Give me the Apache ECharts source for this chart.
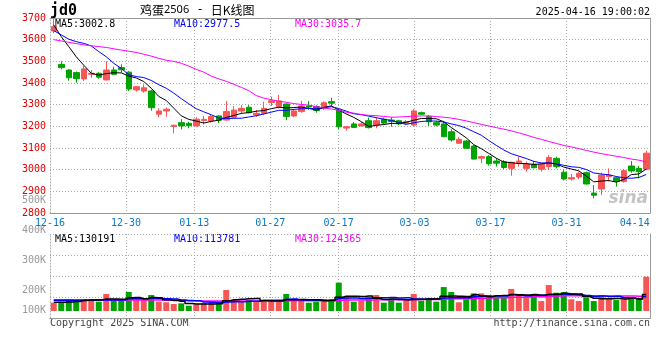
<!DOCTYPE html>
<html><head><meta charset="utf-8">
<script src="https://cdn.jsdelivr.net/npm/echarts/dist/echarts.min.js"></script>
<style>html,body{margin:0;padding:0;background:#fff}#c{width:660px;height:360px}</style>
</head><body><div id="c"></div>
<script>
// ---------- data ----------
const dates = ['12-16','12-17','12-18','12-19','12-20','12-23','12-24','12-25','12-26','12-27','12-30','12-31',
'01-02','01-03','01-06','01-07','01-08','01-09','01-10','01-13','01-14','01-15','01-16','01-17','01-20','01-21','01-22','01-23','01-24','01-27',
'02-05','02-06','02-07','02-10','02-11','02-12','02-13','02-14','02-17','02-18','02-19','02-20','02-21','02-24','02-25','02-26','02-27','02-28',
'03-03','03-04','03-05','03-06','03-07','03-10','03-11','03-12','03-13','03-14','03-17','03-18','03-19','03-20','03-21','03-24','03-25','03-26','03-27','03-28','03-31',
'04-01','04-02','04-03','04-07','04-08','04-09','04-10','04-11','04-14','04-15','04-16'];
const opens = [3640,3486,3460,3448,3419,3440,3445,3414,3460,3471,3450,3368,3363,3363,3256,3271,3199,3217,3214,3202,
3227,3225,3248,3229,3242,3271,3288,3253,3260,3310,3291,3303,3248,3268,3294,3291,3283,3314,3275,3192,
3211,3202,3226,3206,3233,3229,3226,3214,3206,3263,3245,3217,3211,3175,3122,3132,3109,3053,3060,3040,
3037,3006,3033,3006,3025,3002,3014,3052,2988,2957,2966,2986,2892,2911,2968,2963,2945,3017,3006,3002];
const closes = [3660,3471,3424,3420,3465,3445,3427,3460,3440,3461,3372,3383,3378,3286,3271,3279,3205,3202,3203,3233,
3232,3245,3228,3268,3275,3283,3263,3260,3283,3318,3317,3245,3271,3294,3289,3273,3309,3307,3198,3198,
3195,3211,3194,3226,3215,3222,3211,3221,3271,3256,3221,3206,3152,3137,3140,3099,3049,3060,3027,3030,
3010,3034,3040,3026,3009,3025,3056,3014,2957,2963,2983,2934,2882,2975,2975,2946,2995,2994,2991,3076];
const lows = [3630,3463,3411,3401,3409,3424,3420,3413,3437,3448,3363,3360,3355,3272,3242,3244,3168,3186,3191,3199,
3209,3217,3215,3226,3237,3260,3260,3244,3252,3294,3283,3229,3242,3263,3276,3263,3276,3294,3188,3180,
3194,3199,3190,3191,3209,3198,3206,3206,3202,3252,3202,3200,3150,3129,3120,3095,3047,3030,3019,3014,
3003,2972,3014,2991,3006,2991,2998,3006,2950,2950,2956,2932,2868,2883,2945,2922,2940,2986,2960,2998];
const highs = [3695,3500,3462,3453,3478,3460,3450,3501,3475,3486,3455,3386,3394,3368,3283,3286,3208,3233,3221,3242,
3248,3256,3250,3317,3294,3298,3298,3275,3314,3337,3345,3306,3280,3318,3317,3298,3315,3332,3283,3202,
3220,3220,3240,3242,3240,3242,3230,3229,3279,3268,3252,3225,3225,3186,3150,3137,3113,3065,3067,3052,
3044,3037,3060,3037,3040,3030,3068,3060,3000,2980,2991,2991,2929,2986,3006,2968,3002,3040,3017,3088];
const ma5 = [3668,3614,3568,3521,3482,3445,3436.2,3443.4,3447.4,3446.6,3432,3423.2,3406.8,3376,3338,3319.4,3283.8,3248.6,3232,3224.4,
3215,3223,3228.2,3241.2,3249.6,3259.8,3263.4,3269.8,3272.8,3281.4,3288.2,3284.6,3286.8,3289,3283.2,3274.4,3287.2,3294.4,3275.2,3257,
3241.4,3221.8,3199.2,3204.8,3208.2,3213.6,3213.6,3219,3228,3236.2,3236,3235,3221.2,3194.4,3171.2,3146.8,3115.4,3097,3075,3053,
3035.2,3032.2,3028.2,3028,3023.8,3026.8,3031.2,3026,3012.2,3003,2994.6,2970.2,2943.8,2947.4,2949.8,2942.4,2954.6,2977,2980.2,3002.8];
const ma10 = [3642,3622,3602,3591,3583,3571,3545,3521,3491,3467.3,3438.5,3429.7,3425.1,3411.7,3392.3,3375.7,3353.5,3327.7,3304,3281.2,
3267.2,3253.4,3238.4,3236.6,3237,3237.4,3243.2,3249,3257,3265.5,3274,3274,3278.3,3280.9,3282.3,3281.3,3285.9,3290.6,3282.1,3270.1,
3257.9,3254.5,3246.8,3240,3232.6,3227.5,3217.7,3209.1,3216.4,3222.2,3224.8,3224.3,3220.1,3211.2,3203.7,3191.4,3175.2,3159.1,3134.7,3112.1,
3091,3073.8,3062.6,3051.5,3038.4,3031,3031.7,3027.1,3020.1,3013.4,3010.7,3000.7,2984.9,2979.8,2976.4,2968.5,2962.4,2960.4,2963.8,2977.5];
const ma30 = [3600,3594,3588,3582,3576,3572,3568,3564,3558,3552,3547,3541,3533,3524,3514,3505,3500,3491,3478,3463,
3450,3432,3419,3408,3394,3380,3365,3342,3330,3323,3316,3311,3305,3301,3298,3291,3285,3280,3274,3265,
3261,3254,3251,3249,3246,3242,3243,3245,3247,3248,3248,3245,3242,3238,3232,3225,3217,3209,3202,3194,
3187,3179,3170,3160,3149,3140,3130,3121,3112,3105,3097,3089,3081,3074,3068,3062,3056,3049,3044,3035.7];
const volumes = [66,74,95,82,95,95,74,135,82,82,151,87,87,127,74,69,56,61,42,53,
61,61,69,167,87,79,87,74,87,74,74,135,79,95,66,74,95,87,225,109,
74,82,109,127,66,93,66,93,135,82,101,74,190,151,69,93,140,140,127,106,
106,175,135,113,121,79,206,145,151,93,79,106,79,127,95,87,93,106,93,272].map(v => v * 1000);
const volMa5 = [70,70,72,76,82.4,88.2,88.2,96.2,96.2,93.6,104.8,107.4,97.8,106.8,105.2,88.8,82.6,77.4,60.4,56.2,
54.6,55.6,57.2,82.2,89,92.6,97.8,98.8,82.8,80.2,79.2,88.8,89.8,91.4,89.8,89.8,81.8,83.4,109.4,118,
118,115.4,119.8,100.2,91.6,95.4,92.2,89,90.6,93.8,95.4,97,116.4,119.6,117,115.4,128.6,118.6,113.8,121.2,
123.8,130.8,129.8,127,130,124.6,130.8,132.8,140.4,134.8,134.8,114.8,101.6,96.8,97.2,98.8,96.2,101.6,94.8,130.191].map(v => v * 1000);
const volMa10 = [86,86,86,86,86,86,87,88,88,88,96.5,97.8,97,101.5,99.4,96.8,95,87.6,83.6,80.7,
71.7,69.1,67.3,71.3,72.6,73.6,76.7,78,82.5,84.6,85.9,93.3,94.3,87.1,85,84.5,85.3,86.6,100.4,103.9,
103.9,98.6,101.6,104.8,104.8,106.7,103.8,104.4,95.4,92.7,95.4,94.6,102.7,105.1,105.4,105.4,112.8,117.5,116.7,119.1,
119.6,129.7,124.2,120.4,125.6,124.2,130.8,131.3,133.7,132.4,129.7,122.8,117.2,118.6,116,116.8,105.5,101.6,95.8,113.781].map(v => v * 1000);
const volMa30 = [89,89,89,88,88,88,88,88,88,88,88,88,88,88,87,86,85,84,82,81,
80,79,79,80,80,80,80,80,80,80,80,81,81,81,81,81,81,82,86,87,
87,87,88,89,89,89,89,89,91,91,92,92,96,98,98,98,100,102,104,105,
106,109,110,111,113,113,117,119,121,121,121,120,119,119,119,119,119,119,118,124.365].map(v => v * 1000);
const labelIdx = [0, 10, 19, 29, 38, 48, 58, 68, 77];
const gridIdx = [10, 19, 29, 38, 48, 58, 68];
const volTickLabels = ['500K', '400K', '300K', '200K', '100K'];

// ---------- style ----------
const RED = '#f65656', GREEN = '#00a400';
const MONO = 'DejaVu Sans Mono';
const AXC = '#9a9a9a', GRIDC = '#aaaaaa';
const volLabelY = [200.5, 230.5, 260.5, 290, 310];

const chart = echarts.init(document.getElementById('c'), null, {renderer: 'canvas'});
const dotted = {color: GRIDC, type: [1, 2], width: 1};
const hiddenLbl = {show: false};

const graphic = [
  {type: 'text', x: 50, y: 11, style: {text: 'jd0', font: 'bold 15px "DejaVu Sans Mono"', fill: '#000', textVerticalAlign: 'middle'}},
  {type: 'text', x: 140, y: 10, style: {
    text: '{a|鸡蛋}{b|2506}{m| - }{a|日K线图}', textVerticalAlign: 'middle',
    rich: {a: {fontFamily: 'Noto Sans CJK SC', fontSize: 12, color: '#000'},
           b: {fontFamily: 'Noto Sans', fontSize: 11, color: '#555'},
           m: {fontFamily: MONO, fontSize: 12, color: '#000'}}}},
  {type: 'text', x: 650, y: 12, style: {text: '2025-04-16 19:00:02', font: '10px "DejaVu Sans Mono"', fill: '#000', textAlign: 'right', textVerticalAlign: 'middle'}},
  {type: 'text', x: 55, y: 24, style: {text: 'MA5:' + ma5[ma5.length - 1].toFixed(1), font: '10px "DejaVu Sans Mono"', fill: '#000', textVerticalAlign: 'middle'}},
  {type: 'text', x: 174, y: 24, style: {text: 'MA10:' + ma10[ma10.length - 1].toFixed(1), font: '10px "DejaVu Sans Mono"', fill: '#0000ff', textVerticalAlign: 'middle'}},
  {type: 'text', x: 295, y: 24, style: {text: 'MA30:' + ma30[ma30.length - 1].toFixed(1), font: '10px "DejaVu Sans Mono"', fill: '#ff00ff', textVerticalAlign: 'middle'}},
  {type: 'text', x: 55, y: 239, style: {text: 'MA5:' + Math.round(volMa5[volMa5.length - 1]), font: '10px "DejaVu Sans Mono"', fill: '#000', textVerticalAlign: 'middle'}},
  {type: 'text', x: 174, y: 239, style: {text: 'MA10:' + Math.round(volMa10[volMa10.length - 1]), font: '10px "DejaVu Sans Mono"', fill: '#0000ff', textVerticalAlign: 'middle'}},
  {type: 'text', x: 295, y: 239, style: {text: 'MA30:' + Math.round(volMa30[volMa30.length - 1]), font: '10px "DejaVu Sans Mono"', fill: '#ff00ff', textVerticalAlign: 'middle'}},
  {type: 'text', x: 50, y: 323, style: {text: 'Copyright 2025 SINA.COM', font: '10px "DejaVu Sans Mono"', fill: '#444', textVerticalAlign: 'middle'}},
  {type: 'text', x: 650, y: 323, style: {text: 'http://finance.sina.com.cn', font: '10px "DejaVu Sans Mono"', fill: '#444', textAlign: 'right', textVerticalAlign: 'middle'}},
  {type: 'text', x: 648, y: 199, style: {text: 'sina', font: 'italic bold 17px "DejaVu Sans"', fill: '#c4c4c4', textAlign: 'right', textVerticalAlign: 'middle'}}
];
volTickLabels.forEach((t, k) => graphic.push({type: 'text', x: 46, y: volLabelY[k],
  style: {text: t, font: '10px "DejaVu Sans Mono"', fill: '#999', textAlign: 'right', textVerticalAlign: 'middle'}}));

const option = {
  animation: false,
  backgroundColor: '#fff',
  grid: [
    {left: 50, width: 600, top: 18, height: 195},
    {left: 50, width: 600, top: 234, height: 84},
    {left: 50, width: 600, top: 234, height: 77}
  ],
  xAxis: [
    {gridIndex: 0, type: 'category', data: dates, boundaryGap: true, position: 'top',
     axisLine: {show: true, lineStyle: {color: AXC}}, axisTick: {show: false}, axisLabel: hiddenLbl, splitLine: {show: false}},
    {gridIndex: 0, type: 'category', data: dates, boundaryGap: false, position: 'bottom',
     axisLine: {show: true, lineStyle: {color: AXC}}, axisTick: {show: false},
     axisLabel: {interval: (i) => labelIdx.includes(i), color: '#0a78c6', fontFamily: MONO, fontSize: 10, margin: 5},
     splitLine: {show: true, interval: (i) => gridIdx.includes(i), lineStyle: dotted}},
    {gridIndex: 1, type: 'category', data: dates, boundaryGap: false, position: 'bottom',
     axisLine: {show: true, lineStyle: {color: AXC}}, axisTick: {show: false}, axisLabel: hiddenLbl,
     splitLine: {show: true, interval: (i) => gridIdx.includes(i), lineStyle: dotted}},
    {gridIndex: 1, type: 'category', data: dates, boundaryGap: false, position: 'top',
     axisLine: {show: true, lineStyle: {color: AXC}}, axisTick: {show: false}, axisLabel: hiddenLbl, splitLine: {show: false}},
    {gridIndex: 2, type: 'category', data: dates, boundaryGap: true, show: false}
  ],
  yAxis: [
    {gridIndex: 0, type: 'value', min: 2800, max: 3700, interval: 100, position: 'left',
     axisLine: {show: true, lineStyle: dotted}, axisTick: {show: false},
     axisLabel: {color: '#e00000', fontFamily: MONO, fontSize: 10, margin: 4, padding: [0, 0, 3, 0], formatter: (v) => String(v)},
     splitLine: {show: true, lineStyle: dotted}},
    {gridIndex: 0, type: 'value', min: 2800, max: 3700, position: 'right',
     axisLine: {show: true, lineStyle: {color: AXC}}, axisTick: {show: false}, axisLabel: hiddenLbl, splitLine: {show: false}},
    {gridIndex: 1, type: 'value', min: 0, max: 4, interval: 1, position: 'left',
     axisLine: {show: true, lineStyle: dotted}, axisTick: {show: false}, axisLabel: hiddenLbl,
     splitLine: {show: true, lineStyle: dotted}},
    {gridIndex: 1, type: 'value', min: 0, max: 4, position: 'right',
     axisLine: {show: true, lineStyle: {color: AXC}}, axisTick: {show: false}, axisLabel: hiddenLbl, splitLine: {show: false}},
    {gridIndex: 2, type: 'value', min: 0, max: 611000, show: false}
  ],
  series: [
    {type: 'candlestick', xAxisIndex: 0, yAxisIndex: 0, barWidth: 6,
     data: dates.map((d, i) => [opens[i], closes[i], lows[i], highs[i]]),
     itemStyle: {color: RED, color0: GREEN, borderColor: RED, borderColor0: GREEN, borderWidth: 1}},
    {type: 'line', name: 'MA5', xAxisIndex: 0, yAxisIndex: 0, data: ma5, symbol: 'none', lineStyle: {color: '#000', width: 1}},
    {type: 'line', name: 'MA10', xAxisIndex: 0, yAxisIndex: 0, data: ma10, symbol: 'none', lineStyle: {color: '#0000ff', width: 1}},
    {type: 'line', name: 'MA30', xAxisIndex: 0, yAxisIndex: 0, data: ma30, symbol: 'none', lineStyle: {color: '#ff00ff', width: 1}},
    {type: 'bar', xAxisIndex: 4, yAxisIndex: 4, barWidth: 6, data: volumes,
     itemStyle: {color: (p) => closes[p.dataIndex] >= opens[p.dataIndex] ? RED : GREEN}},
    {type: 'line', xAxisIndex: 4, yAxisIndex: 4, data: volMa30, step: 'middle', symbol: 'none', lineStyle: {color: '#ff00ff', width: 1.5}},
    {type: 'line', xAxisIndex: 4, yAxisIndex: 4, data: volMa10, step: 'middle', symbol: 'none', lineStyle: {color: '#0000ff', width: 1.5}},
    {type: 'line', xAxisIndex: 4, yAxisIndex: 4, data: volMa5, step: 'middle', symbol: 'none', lineStyle: {color: '#000', width: 1.5}}
  ],
  graphic: graphic
};
chart.setOption(option);
</script>
</body></html>
